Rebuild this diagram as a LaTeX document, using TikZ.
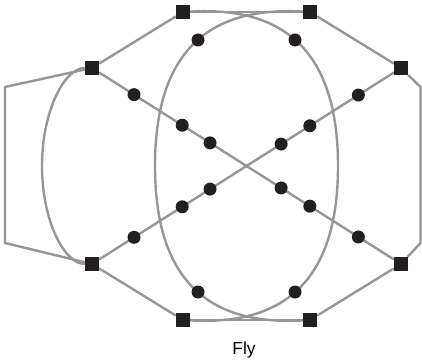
\documentclass[tikz,border=0pt]{standalone}
\usepackage{fontspec}
\setmainfont{Liberation Sans}
\usetikzlibrary{backgrounds}
\usepackage{xcolor}
\definecolor{flygray}{RGB}{150,150,150}
\definecolor{flyblack}{RGB}{35,31,32}

\begin{document}
\begin{tikzpicture}[
  x=1pt, y=1pt,
  sq/.style={rectangle, fill=flyblack, minimum size=14pt, inner sep=0pt},
  dot/.style={circle, fill=flyblack, minimum size=13pt, inner sep=0pt},
  ln/.style={draw=flygray, line width=2.4pt}
]
\useasboundingbox (0,0) rectangle (422,361);

\node[sq] (tl) at (183,349) {};
\node[sq] (tr) at (310,349) {};
\node[sq] (lu) at (92,293)  {};
\node[sq] (ru) at (401,293) {};
\node[sq] (ll) at (92,97)   {};
\node[sq] (rl) at (401,97)  {};
\node[sq] (bl) at (183,41)  {};
\node[sq] (br) at (310,41)  {};

\node[dot] (t1) at (198,321) {};
\node[dot] (t2) at (295,321) {};
\node[dot] (b1) at (198,69)  {};
\node[dot] (b2) at (295,69)  {};

\path (lu.center) -- (rl.center)
  node[dot, pos=0.136] (d1) {}
  node[dot, pos=0.292] (d2) {}
  node[dot, pos=0.382] (d3) {}
  node[dot, pos=0.612] (d4) {}
  node[dot, pos=0.705] (d5) {}
  node[dot, pos=0.862] (d6) {};
\path (ll.center) -- (ru.center)
  node[dot, pos=0.136] (e1) {}
  node[dot, pos=0.292] (e2) {}
  node[dot, pos=0.382] (e3) {}
  node[dot, pos=0.612] (e4) {}
  node[dot, pos=0.705] (e5) {}
  node[dot, pos=0.862] (e6) {};

\coordinate (wl)  at (155,195);
\coordinate (wr)  at (338,195);
\coordinate (wll) at (42,195);
\coordinate (pl1) at (5,274);
\coordinate (pl2) at (5,118);
\coordinate (pr1) at (420.5,274);
\coordinate (pr2) at (420.5,118);

\node[anchor=base, font=\fontsize{17.5}{20}\selectfont] (lbl) at (244,7) {Fly};

\begin{scope}[on background layer]
  \draw[ln] (tl) -- (tr);
  \draw[ln] (bl) -- (br);
  \draw[ln] (tl) -- (lu);
  \draw[ln] (tr) -- (ru);
  \draw[ln] (ll) -- (bl);
  \draw[ln] (rl) -- (br);
  \draw[ln] (lu) -- (rl);
  \draw[ln] (ll) -- (ru);
  \draw[ln] (lu) -- (pl1) -- (pl2) -- (ll);
  \draw[ln] (ru) -- (pr1) -- (pr2) -- (rl);
  \draw[ln] (tr) .. controls (220,354) and (155,321) .. (wl)
                 .. controls (155,69) and (220,36) .. (br);
  \draw[ln] (tl) .. controls (273,354) and (338,321) .. (wr)
                 .. controls (338,69) and (273,36) .. (bl);
  \draw[ln] (lu) .. controls (64,293) and (42,249) .. (wll)
                 .. controls (42,141) and (64,97) .. (ll);
\end{scope}

\end{tikzpicture}
\end{document}
